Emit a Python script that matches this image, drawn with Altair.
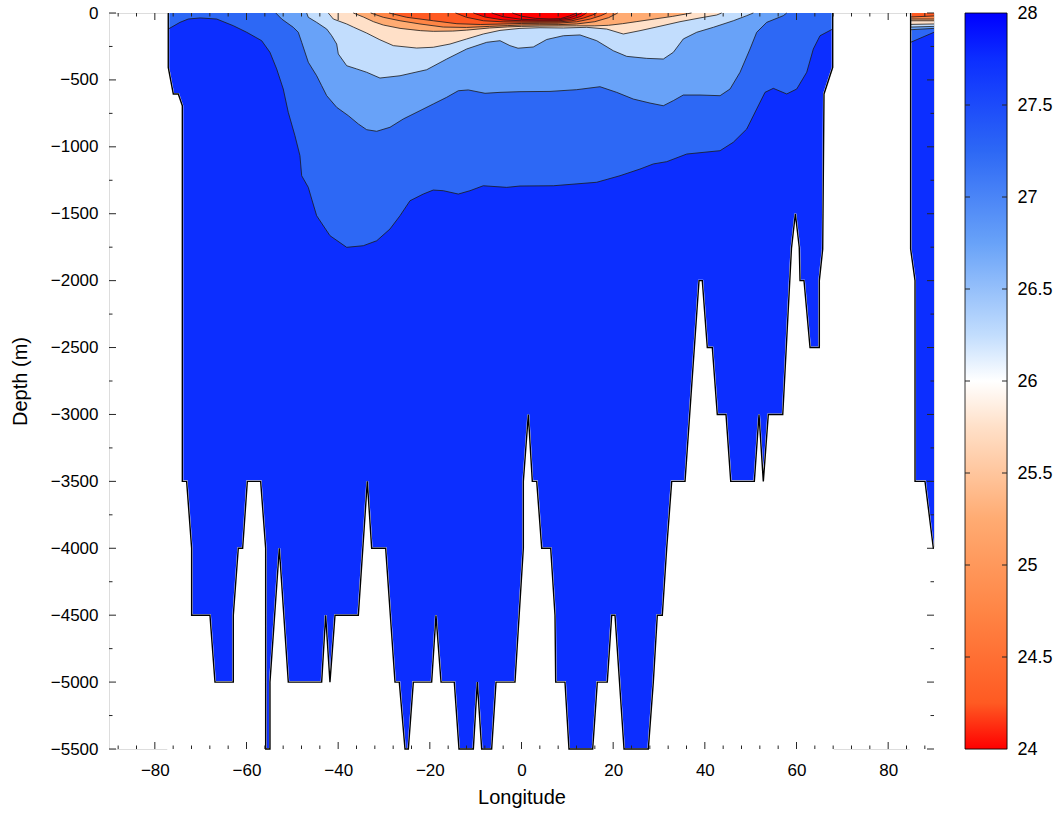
import altair as alt
import pandas as pd

# ---------------- axes ----------------
X_MAJOR = [-80, -60, -40, -20, 0, 20, 40, 60, 80]
X_MINOR = [-88, -84, -76, -72, -68, -64, -56, -52, -48, -44, -36, -32, -28, -24,
           -16, -12, -8, -4, 4, 8, 12, 16, 24, 28, 32, 36, 44, 48, 52, 56, 64, 68,
           72, 76, 84, 88]
Y_MAJOR = [0, -500, -1000, -1500, -2000, -2500, -3000, -3500, -4000, -4500, -5000, -5500]
Y_MINOR = [-250, -750, -1250, -1750, -2250, -2750, -3250, -3750, -4250, -4750, -5250]
CB_TICKS = [24, 24.5, 25, 25.5, 26, 26.5, 27, 27.5, 28]

# colour scale (density, sigma)
CS_DOMAIN = [24, 24.25, 24.75, 25.25, 25.75, 26, 26.25, 26.75, 27.25, 27.75, 28]
CS_RANGE = ["#ff0000", "#ff5a22", "#ff8545", "#ffab72", "#ffe0c8", "#ffffff",
            "#c2ddfd", "#68a2f8", "#2d68f5", "#0c2eff", "#0000ff"]

# ---------------- ocean boundary (walls + sea floor) ----------------
FLOOR_LON = [-77.07, -77.07, -75.97, -74.88, -74.0, -74.0, -73.06, -71.97, -71.97, -67.97,
             -66.88, -62.88, -62.88, -61.79, -60.84, -59.82, -56.91, -55.82, -55.82, -54.88,
             -54.88, -52.84, -50.88, -43.60, -42.73, -41.79, -40.69, -35.60, -33.64, -32.69,
             -29.64, -27.60, -26.66, -25.42, -24.69, -23.60, -19.60, -18.66, -17.56, -14.66,
             -13.64, -10.51, -9.64, -8.69, -6.51, -5.56, -1.42, 0.40, 0.40, 1.49,
             2.36, 3.32, 4.41, 6.37, 7.31, 7.46, 9.49, 10.36, 15.53, 16.54,
             18.72, 19.68, 20.40, 22.37, 27.67, 28.76, 29.63, 30.72, 31.68, 32.77,
             35.68, 38.73, 39.45, 40.54, 41.63, 42.72, 44.62, 45.65, 50.80, 51.82,
             52.76, 53.85, 57.00, 58.90, 59.75, 60.60, 60.77, 61.64, 62.95, 64.98,
             64.98, 65.72, 66.0, 67.9, 67.9]
FLOOR_DEP = [0, -406, -605, -605, -693, -3500, -3500, -4000, -4500, -4500,
             -5000, -5000, -4500, -4000, -4000, -3500, -3500, -4000, -5500, -5500,
             -5000, -4000, -5000, -5000, -4500, -5000, -4500, -4500, -3500, -4000,
             -4000, -5000, -5000, -5500, -5500, -5000, -5000, -4500, -5000, -5000,
             -5500, -5500, -5000, -5500, -5500, -5000, -5000, -4000, -3500, -3000,
             -3500, -3500, -4000, -4000, -4500, -5000, -5000, -5500, -5500, -5000,
             -5000, -4500, -4500, -5500, -5500, -5000, -4500, -4500, -4000, -3500,
             -3500, -2000, -2000, -2500, -2500, -3000, -3000, -3500, -3500, -3000,
             -3500, -3000, -3000, -1760, -1500, -1750, -2000, -2000, -2500, -2500,
             -2000, -1764, -605, -406, 0]
EAST_LON = [84.9, 84.9, 85.86, 85.86, 88.04, 89.86, 90.0]
EAST_DEP = [0, -1764, -2000, -3500, -3500, -4000, -4000]

# ---------------- density contours (main basin) ----------------
L1_LON = [-77.07, -74.52, -72.71, -70.09, -66.51, -62.88, -59.96, -56.69, -54.88, -53.42,
          -51.98, -50.89, -49.43, -48.34, -47.96, -46.52, -45.78, -44.69, -41.79, -38.14,
          -34.52, -31.59, -28.69, -26.51, -24.33, -21.43, -19.25, -17.06, -13.79, -11.24,
          -8.34, -3.23, -0.33, 6.94, 16.41, 21.49, 25.86, 28.76, 31.68, 36.05,
          43.32, 46.21, 49.14, 51.32, 53.13, 54.94, 57.87, 60.05, 62.23, 63.67,
          65.13, 67.9]
L1_DEP = [-120, -70, -45, -37, -45, -95, -144, -207, -294, -418,
          -568, -742, -917, -1066, -1216, -1303, -1390, -1515, -1664, -1751,
          -1739, -1702, -1614, -1515, -1403, -1353, -1323, -1328, -1353, -1328,
          -1291, -1303, -1293, -1291, -1265, -1216, -1166, -1128, -1111, -1054,
          -1029, -966, -867, -717, -593, -563, -605, -568, -443, -269,
          -170, -120]
L2_LON = [-53.6, -52.32, -49.79, -48.70, -47.96, -46.52, -44.69, -43.60, -42.50, -40.32,
          -37.79, -35.61, -33.78, -31.59, -28.69, -25.79, -22.15, -19.25, -16.32, -13.79,
          -11.61, -7.96, -4.69, -0.33, 6.22, 12.04, 17.13, 20.77, 24.39, 28.03,
          30.94, 33.12, 35.30, 38.94, 43.32, 45.50, 47.68, 49.86, 51.32, 53.50,
          57.12, 57.87]
L2_DEP = [0, -45, -107, -144, -219, -368, -469, -543, -618, -705,
          -767, -829, -872, -884, -854, -792, -730, -680, -630, -581,
          -575, -600, -593, -588, -586, -573, -551, -593, -643, -673,
          -693, -655, -613, -613, -618, -568, -443, -269, -144, -70,
          -20, 0]
L3_LON = [-46.87, -46.52, -44.69, -42.50, -41.41, -40.32, -39.97, -38.14, -35.96, -33.78,
          -30.88, -26.51, -20.69, -16.32, -11.96, -7.59, -4.69, -2.51, -0.76, 2.57,
          5.50, 9.12, 12.76, 16.41, 20.03, 22.95, 27.32, 30.94, 33.12, 35.30,
          38.23, 41.85, 46.21, 49.14, 50.58]
L3_DEP = [0, -32, -70, -120, -170, -232, -306, -394, -418, -443,
          -486, -469, -424, -344, -269, -219, -207, -244, -263, -254,
          -198, -170, -164, -207, -282, -324, -339, -344, -294, -194,
          -144, -107, -58, -20, 0]
L4_LON = [-42.15, -41.06, -38.14, -36.7, -33.78, -30.9, -27.97, -22.87, -19.25, -15.6,
          -11.96, -8.34, -4.69, -0.33, 4.04, 9.12, 14.23, 18.59, 22.21, 25.86,
          30.22, 34.58, 38.94, 42.59, 43.68]
L4_DEP = [0, -45, -82, -105, -150, -200, -244, -262, -256, -232,
          -194, -157, -130, -115, -110, -112, -107, -120, -157, -132,
          -99, -65, -37, -15, 0]
L5_LON = [-36.7, -34.5, -32.3, -30.15, -26.5, -22, -19.25, -15, -12, -7,
          -3, 0, 4, 8, 12, 16, 19, 22, 25, 29, 33, 37.1]
L5_DEP = [0, -30, -65, -90, -115, -132, -137, -135, -128, -112,
          -104, -100, -98, -97, -96, -96, -92, -80, -65, -45, -25, 0]
L6_LON = [-32.9, -30.15, -26.5, -22.15, -17.06, -12, -7, -3, 0, 4, 8, 12, 16, 19, 21]
L6_DEP = [0, -32, -58, -82, -105, -108, -100, -94, -90, -88, -87, -82, -65, -35, 0]
L7_LON = [-28.9, -25.05, -19.25, -14.1, -9, -4, 0, 4, 8, 12, 15, 17.3, 18.6]
L7_DEP = [0, -32, -58, -80, -86, -82, -78, -77, -76, -66, -45, -20, 0]
L8_LON = [-14.4, -12, -8.3, -4, 0, 4, 8, 11, 13.5, 15.5, 16.4]
L8_DEP = [0, -32, -58, -66, -68, -68, -67, -58, -38, -15, 0]
R1_LON = [-10.5, -8, -4, 0, 4, 8, 11, 13, 14.2]
R1_DEP = [0, -30, -52, -58, -60, -59, -46, -25, 0]
R2_LON = [-6.5, -4, 0, 4, 8, 10.5, 12.2, 13.1]
R2_DEP = [0, -28, -47, -52, -51, -36, -14, 0]
R3_LON = [-2, 0, 3, 6, 8.5, 10.5, 12]
R3_DEP = [0, -24, -40, -44, -42, -22, 0]

# ---------------- density contours (eastern strip) ----------------
E_LON = [84.9, 90.0]
E_L1 = [-219, -144]
E_L2 = [-125, -115]
E_L3 = [-105, -100]
E_L4 = [-85, -82]
E_L5 = [-58, -58]
E_L6 = [-45, -45]
E_L7 = [-30, -22]

DEEP = 27.75
BANDS = [  # (name, segments, sigma of the water above the line)
    ("L1", [(L1_LON, L1_DEP), (E_LON, E_L1)], 27.25),
    ("L2", [(L2_LON, L2_DEP), (E_LON, E_L2)], 26.75),
    ("L3", [(L3_LON, L3_DEP), (E_LON, E_L3)], 26.25),
    ("L4", [(L4_LON, L4_DEP), (E_LON, E_L4)], 25.75),
    ("L5", [(L5_LON, L5_DEP), (E_LON, E_L5)], 25.25),
    ("L6", [(L6_LON, L6_DEP), (E_LON, E_L6)], 24.75),
    ("L7", [(L7_LON, L7_DEP), (E_LON, E_L7)], 24.25),
    ("L8", [(L8_LON, L8_DEP)], 24.1),
    ("R1", [(R1_LON, R1_DEP)], 23.75),
    ("R2", [(R2_LON, R2_DEP)], 23.5),
    ("R3", [(R3_LON, R3_DEP)], 23.25),
]

# ---------------- build tables ----------------
def rows(pts, key, sigma=None):
    return [dict(lon=a, depth=b, key=key, i=i, sigma=sigma) for i, (a, b) in enumerate(pts)]

fill_rows = []
for k, (lo, de) in enumerate([(FLOOR_LON, FLOOR_DEP), (EAST_LON, EAST_DEP)]):
    x0, x1 = lo[0], (lo[-1] if k == 0 else 90.0)
    fill_rows += rows([(x0, 0), (x1, 0), (x1, -5500), (x0, -5500)], f"00_base{k}", DEEP)
line_rows = []
for n, (name, segs, sig) in enumerate(BANDS):
    for s, (lo, de) in enumerate(segs):
        pts = list(zip(lo, de))
        fill_rows += rows(pts + [(lo[-1], 0), (lo[0], 0)], f"{n+1:02d}_{name}_{s}", sig)
        line_rows += rows(pts, f"{name}_{s}")
fill_df = pd.DataFrame(fill_rows)
line_df = pd.DataFrame(line_rows)

mask_rows, edge_rows = [], []
for k, (lo, de) in enumerate([(FLOOR_LON, FLOOR_DEP), (EAST_LON, EAST_DEP)]):
    pts = list(zip(lo, de))
    mask_rows += rows(pts + [(lo[-1], -5500), (lo[0], -5500), (lo[0], de[0])], f"m{k}")
    edge_rows += rows(pts, f"e{k}")
mask_df = pd.DataFrame(mask_rows)
edge_df = pd.DataFrame(edge_rows)

# ---------------- encodings ----------------
FONT = "Liberation Sans"
TXT = "#262626"
XS = alt.Scale(domain=[-90, 90], nice=False, zero=False)
YS = alt.Scale(domain=[-5500, 0], nice=False, zero=False)
CS = alt.Scale(domain=CS_DOMAIN, range=CS_RANGE, clamp=True)
XAX = alt.Axis(values=X_MAJOR, format="d", ticks=False, domain=False, grid=False,
               labelPadding=13, labelFontSize=17, titleFontSize=20, titlePadding=9,
               titleFontWeight="normal", title="Longitude")
YAX = alt.Axis(values=Y_MAJOR, format="d", ticks=False, domain=False, grid=False,
               labelPadding=11, labelFontSize=17, titleFontSize=20, titlePadding=20,
               titleFontWeight="normal", title="Depth (m)")

def X(f="lon"):
    return alt.X(f"{f}:Q", scale=XS, axis=XAX)

def Y(f="depth"):
    return alt.Y(f"{f}:Q", scale=YS, axis=YAX)

W, H = 825, 736

layers = []
for key in sorted(fill_df["key"].unique()):
    layers.append(
        alt.Chart(fill_df[fill_df["key"] == key]).mark_line(strokeWidth=0, strokeOpacity=0)
        .encode(x=X(), y=Y(), fill=alt.Fill("sigma:Q", scale=CS, legend=None),
                order=alt.Order("i:Q"))
    )
contours = alt.Chart(line_df).mark_line(color="#1a1a1a", strokeWidth=0.8).encode(
    x=X(), y=Y(), detail="key:N", order=alt.Order("i:Q"))
mask = alt.Chart(mask_df).mark_line(fill="white", stroke="white", strokeWidth=2).encode(
    x=X(), y=Y(), detail="key:N", order=alt.Order("i:Q"))
edge = alt.Chart(edge_df).mark_line(color="black", strokeWidth=1.4).encode(
    x=X(), y=Y(), detail="key:N", order=alt.Order("i:Q"))

xt_major = pd.DataFrame({"lon": X_MAJOR})
xt_minor = pd.DataFrame({"lon": X_MINOR})
yt_major = pd.DataFrame({"depth": Y_MAJOR})
yt_minor = pd.DataFrame({"depth": Y_MINOR})
tick = dict(color=TXT, strokeWidth=1)
ticks = [
    alt.Chart(xt_major).mark_rule(**tick).encode(x=X(), y=alt.value(H), y2=alt.value(H - 7)),
    alt.Chart(xt_minor).mark_rule(**tick).encode(x=X(), y=alt.value(H), y2=alt.value(H - 3.5)),
    alt.Chart(xt_major).mark_rule(**tick).encode(x=X(), y=alt.value(0), y2=alt.value(7)),
    alt.Chart(xt_minor).mark_rule(**tick).encode(x=X(), y=alt.value(0), y2=alt.value(3.5)),
    alt.Chart(yt_major).mark_rule(**tick).encode(y=Y(), x=alt.value(0), x2=alt.value(7)),
    alt.Chart(yt_minor).mark_rule(**tick).encode(y=Y(), x=alt.value(0), x2=alt.value(3.5)),
    alt.Chart(yt_major).mark_rule(**tick).encode(y=Y(), x=alt.value(W), x2=alt.value(W - 7)),
    alt.Chart(yt_minor).mark_rule(**tick).encode(y=Y(), x=alt.value(W), x2=alt.value(W - 3.5)),
]

main = alt.layer(*layers, mask, contours, edge, *ticks).properties(width=W, height=H)

# ---------------- colour bar ----------------
CBS = alt.Scale(domain=[CB_TICKS[0], CB_TICKS[-1]], nice=False, zero=False)
CBAX = alt.Axis(values=CB_TICKS, format="~g", ticks=False, domain=False, grid=False,
                labelPadding=10, labelFontSize=18, title=None, orient="right")
stops = [alt.GradientStop(offset=(v - CS_DOMAIN[0]) / (CS_DOMAIN[-1] - CS_DOMAIN[0]), color=c)
         for v, c in zip(CS_DOMAIN, CS_RANGE)]
grad = alt.Gradient(gradient="linear", stops=stops, x1=0, x2=0, y1=1, y2=0)
cb_df = pd.DataFrame({"lo": [CB_TICKS[0]], "hi": [CB_TICKS[-1]]})
cb_bar = alt.Chart(cb_df).mark_rect(fill=grad, stroke="black", strokeWidth=0.8).encode(
    y=alt.Y("lo:Q", scale=CBS, axis=CBAX), y2="hi:Q", x=alt.value(0), x2=alt.value(42))
cbt = pd.DataFrame({"v": CB_TICKS[1:-1]})
cb_t1 = alt.Chart(cbt).mark_rule(color=TXT, strokeWidth=1).encode(
    y=alt.Y("v:Q", scale=CBS, axis=CBAX), x=alt.value(0), x2=alt.value(5))
cb_t2 = alt.Chart(cbt).mark_rule(color=TXT, strokeWidth=1).encode(
    y=alt.Y("v:Q", scale=CBS, axis=CBAX), x=alt.value(37), x2=alt.value(42))
colorbar = alt.layer(cb_bar, cb_t1, cb_t2).properties(width=42, height=H)

chart = alt.hconcat(main, colorbar, spacing=25).properties(
    padding={"left": 9, "top": 3, "right": 0, "bottom": 0}
).configure_view(stroke=TXT, strokeWidth=1.3).configure_axis(
    labelFont=FONT, titleFont=FONT, labelColor=TXT, titleColor=TXT
).configure(background="white")

chart.save("out.html", embed_options={"renderer": "svg", "actions": False})
